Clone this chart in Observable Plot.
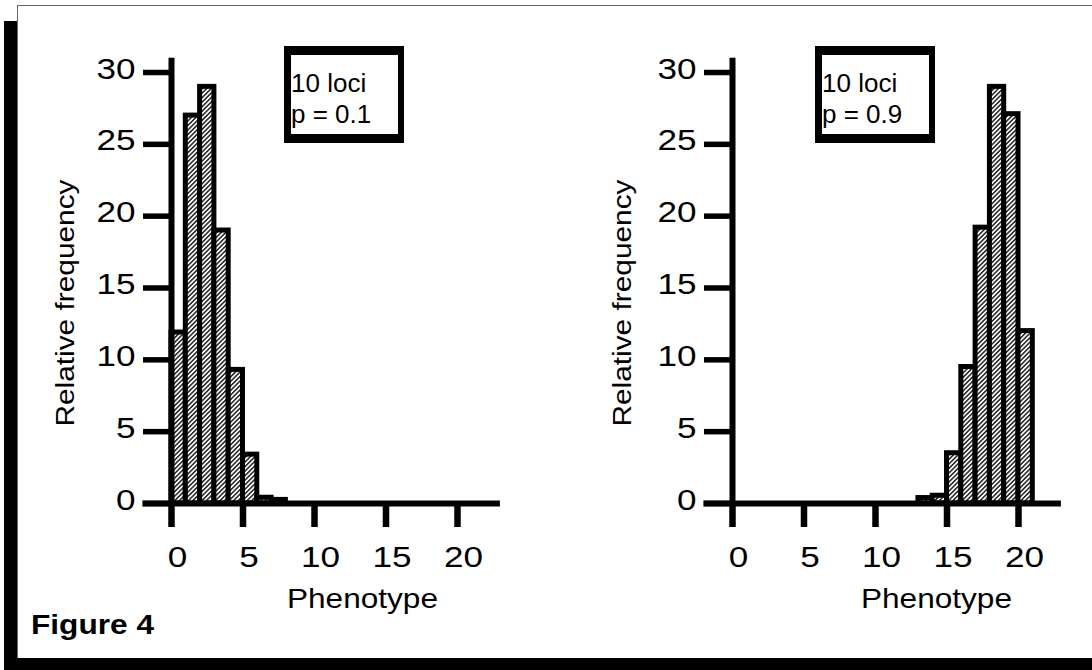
<!DOCTYPE html>
<html>
<head>
<meta charset="utf-8">
<script src="https://cdn.jsdelivr.net/npm/d3@7"></script>
<script src="https://cdn.jsdelivr.net/npm/@observablehq/plot@0.6"></script>
<style>
  html, body { margin: 0; padding: 0; background: #fff; }
  #page { position: relative; width: 1092px; height: 670px; overflow: hidden;
          font-family: "Liberation Sans", Arial, Helvetica, sans-serif; color: #000; }
  #page svg, #page svg text { font-family: "Liberation Sans", Arial, Helvetica, sans-serif !important; }
  .shadow { position: absolute; left: 4px; top: 21px; width: 1100px; height: 660px; background: #000; }
  .sheet { position: absolute; left: 17px; top: 5px; width: 1100px; height: 653px; background: #fff;
           box-sizing: border-box; border-top: 1.5px solid #666; border-left: 1.5px solid #666; }
  .panel { position: absolute; top: 0; width: 540px; height: 670px; }
  .panel svg { position: absolute; left: 0; top: 0; overflow: visible; }
  .key { position: absolute; top: 46px; width: 120px; height: 97px; box-sizing: border-box;
         border-style: solid; border-color: #000; border-width: 9px 6px 9px 7px; background: #fff;
         font-size: 26px; line-height: 31px; padding-top: 13px; padding-left: 0; white-space: nowrap; }
  .fig { position: absolute; left: 31px; top: 611px; font-weight: bold; font-size: 28px; line-height: 28px;
         transform: scaleX(1.13); transform-origin: left top; white-space: nowrap; }
</style>
</head>
<body>
<div id="page">
  <div class="shadow"></div>
  <div class="sheet"></div>
  <div class="fig">Figure 4</div>
</div>
<script>
// Phenotype distributions for 10 loci at two allele frequencies
const phenotypeLow = [0, 1, 2, 3, 4, 5, 6, 7];
const frequencyLow = [11.9, 27.0, 29.0, 19.0, 9.3, 3.4, 0.4, 0.25];
const phenotypeHigh = [13, 14, 15, 16, 17, 18, 19, 20];
const frequencyHigh = [0.38, 0.54, 3.5, 9.5, 19.2, 29.0, 27.1, 12.0];

const xTicks = [0, 5, 10, 15, 20];
const yTicks = [0, 5, 10, 15, 20, 25, 30];
const lociCount = 10;
const pLabels = ["0.1", "0.9"];
const xLabel = "Phenotype";
const yLabel = "Relative frequency";

const panels = [
  { id: "hatchLow",  left: 0,   keyLeft: 284, xLabelDx: 48, yLabelDx: -106, phen: phenotypeLow,  freq: frequencyLow,  p: pLabels[0] },
  { id: "hatchHigh", left: 561, keyLeft: 254, xLabelDx: 61, yLabelDx: -110, phen: phenotypeHigh, freq: frequencyHigh, p: pLabels[1] }
];

const W = 540, H = 670;
const page = document.getElementById("page");
const fontFamily = "Liberation Sans, Arial, Helvetica, sans-serif";

// horizontal lettering is drawn a little wide: scale each label about its anchor
function widen(svg, factor) {
  svg.querySelectorAll("text").forEach(t => {
    if (t.closest('[aria-label="y label"]')) return;
    if (!t.textContent) return;
    const b = t.getBBox();
    const anchor = getComputedStyle(t).textAnchor;
    const ax = anchor === "end" ? b.x + b.width : anchor === "middle" ? b.x + b.width / 2 : b.x;
    const prev = t.getAttribute("transform") || "";
    t.setAttribute("transform", `${prev} translate(${ax},0) scale(${factor},1) translate(${-ax},0)`.trim());
  });
}

for (const panel of panels) {
  const rows = panel.phen.map((p, i) => ({ phenotype: p, freq: panel.freq[i] }));

  const svg = Plot.plot({
    width: W,
    height: H,
    marginLeft: 171,
    marginRight: W - 457,
    marginTop: 72,
    marginBottom: H - 503,
    style: { fontFamily, background: "transparent", color: "#000", overflow: "visible" },
    x: { domain: [0, 20], axis: null },
    y: { domain: [0, 30], axis: null },
    marks: [
      Plot.rect(rows, {
        x1: "phenotype", x2: d => d.phenotype + 1, y1: 0, y2: "freq",
        fill: `url(#${panel.id})`, stroke: "#000", strokeWidth: 5, strokeLinejoin: "miter"
      }),
      // axis lines
      Plot.ruleX([0], { y1: 0, y2: 31, stroke: "#000", strokeWidth: 6 }),
      Plot.ruleY([0], { x1: -2, x2: 23, stroke: "#000", strokeWidth: 6 }),
      // tick marks
      Plot.axisX({ ticks: xTicks, anchor: "bottom", tickSize: 24, strokeWidth: 6.5, tickFormat: () => "", label: null }),
      Plot.axisY({ ticks: yTicks, anchor: "left", tickSize: 28, strokeWidth: 5.5, tickFormat: () => "", label: null }),
      // tick labels
      Plot.text(xTicks, { x: d => d, text: d => String(d), frameAnchor: "bottom", lineAnchor: "top", dy: 42, dx: 6, fontSize: 30, fontFamily }),
      Plot.text(yTicks, { y: d => d, text: d => String(d), frameAnchor: "left", textAnchor: "end", dx: -36, dy: -3.5, fontSize: 30, fontFamily }),
      // axis titles
      Plot.text([xLabel], { text: d => d, frameAnchor: "bottom", lineAnchor: "top", dx: panel.xLabelDx, dy: 85, fontSize: 27, fontFamily }),
      Plot.text([yLabel], { text: d => d, frameAnchor: "left", textAnchor: "middle", rotate: -90, dx: panel.yLabelDx, dy: 15, fontSize: 25.5, fontFamily, ariaLabel: "y label" })
    ]
  });

  // diagonal hatch fill for the bars
  const defs = d3.select(svg).insert("defs", ":first-child");
  const pat = defs.append("pattern")
    .attr("id", panel.id)
    .attr("patternUnits", "userSpaceOnUse")
    .attr("width", 3.2).attr("height", 3.2)
    .attr("patternTransform", "rotate(45)");
  pat.append("rect").attr("width", 3.2).attr("height", 3.2).attr("fill", "#fff");
  pat.append("rect").attr("width", 1.5).attr("height", 3.2).attr("fill", "#222");

  const holder = document.createElement("div");
  holder.className = "panel";
  holder.style.left = panel.left + "px";
  holder.appendChild(svg);

  const key = document.createElement("div");
  key.className = "key";
  key.style.left = panel.keyLeft + "px";
  key.innerHTML = `${lociCount} loci<br>p = ${panel.p}`;
  holder.appendChild(key);

  page.insertBefore(holder, page.querySelector(".fig"));
  widen(svg, 1.17);
}
</script>
</body>
</html>
